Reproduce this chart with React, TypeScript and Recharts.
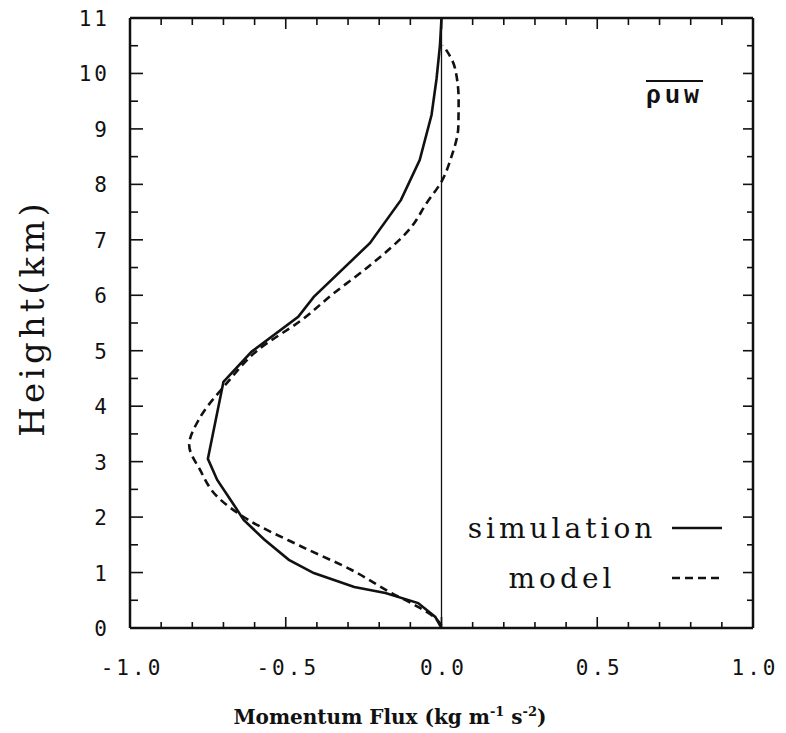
import {
  Legend,
  Line,
  LineChart,
  ReferenceLine,
  XAxis,
  YAxis,
} from "recharts";

// Momentum flux profiles. x in kg m^-1 s^-2, h in km.
const simHeight = [0, 0.2, 0.45, 0.63, 0.74, 0.99, 1.23, 1.6, 1.95, 2.25, 2.67, 3.05, 4.44, 4.98, 5.61, 5.97, 6.94, 7.72, 8.44, 9.25, 9.9, 10.5, 11];
const simFlux = [0, -0.02, -0.075, -0.18, -0.28, -0.41, -0.49, -0.57, -0.635, -0.67, -0.72, -0.75, -0.7, -0.61, -0.46, -0.41, -0.23, -0.13, -0.07, -0.032, -0.016, -0.005, 0];

const modelHeight = [0.05, 0.18, 0.38, 0.63, 1.05, 1.47, 1.95, 2.37, 2.85, 3.3, 3.75, 4.41, 5.01, 5.55, 6.04, 6.51, 7.23, 7.66, 8.05, 8.5, 9.04, 9.52, 10.1, 10.51];
const modelFlux = [0, -0.02, -0.075, -0.16, -0.29, -0.45, -0.62, -0.72, -0.775, -0.81, -0.78, -0.69, -0.59, -0.45, -0.345, -0.236, -0.097, -0.048, 0, 0.032, 0.054, 0.055, 0.043, 0.005];

const xTicks = [-1, -0.9, -0.8, -0.7, -0.6, -0.5, -0.4, -0.3, -0.2, -0.1, 0, 0.1, 0.2, 0.3, 0.4, 0.5, 0.6, 0.7, 0.8, 0.9, 1];
const yTicks = [0, 0.5, 1, 1.5, 2, 2.5, 3, 3.5, 4, 4.5, 5, 5.5, 6, 6.5, 7, 7.5, 8, 8.5, 9, 9.5, 10, 10.5, 11];

const simData = simHeight.map((h, i) => ({ h, x: simFlux[i] }));
const modelData = modelHeight.map((h, i) => ({ h, x: modelFlux[i] }));

const INK = "#111";
const TICK_FONT = "'DejaVu Sans Mono', monospace";
const SERIF = "'DejaVu Serif', serif";

const isMajorX = (v: number) => Math.abs(v * 2 - Math.round(v * 2)) < 1e-6;
const isMajorY = (v: number) => Math.abs(v - Math.round(v)) < 1e-6;

function BottomTick({ x, y, payload }: any) {
  const v = payload.value;
  const major = isMajorX(v);
  return (
    <g>
      <line x1={x} x2={x} y1={y} y2={y - (major ? 11 : 6)} stroke={INK} strokeWidth={1.6} />
      {major && (
        <text x={x + 2} y={y + 47} textAnchor="middle" fontFamily={TICK_FONT} fontSize={21} letterSpacing={3} fill={INK}>
          {Math.abs(v) < 1e-9 ? "0.0" : v.toFixed(1)}
        </text>
      )}
    </g>
  );
}

function TopTick({ x, y, payload }: any) {
  const major = isMajorX(payload.value);
  return <line x1={x} x2={x} y1={y} y2={y + (major ? 11 : 7)} stroke={INK} strokeWidth={1.6} />;
}

function LeftTick({ x, y, payload }: any) {
  const v = payload.value;
  const major = isMajorY(v);
  return (
    <g>
      <line x1={x} x2={x + (major ? 13 : 8)} y1={y} y2={y} stroke={INK} strokeWidth={1.6} />
      {major && (
        <text x={x - 20} y={y + 8} textAnchor="end" fontFamily={TICK_FONT} fontSize={21} letterSpacing={3} fill={INK}>
          {String(v)}
        </text>
      )}
    </g>
  );
}

function RightTick({ x, y, payload }: any) {
  const major = isMajorY(payload.value);
  return <line x1={x} x2={x - (major ? 10 : 6)} y1={y} y2={y} stroke={INK} strokeWidth={1.6} />;
}

function YTitle({ viewBox }: any) {
  const cx = viewBox.x + 32;
  const cy = viewBox.y + viewBox.height / 2 - 5;
  return (
    <text x={cx} y={cy} transform={`rotate(-90 ${cx} ${cy})`} textAnchor="middle" dominantBaseline="central" fontFamily={SERIF} fontSize={34} letterSpacing={4} fill={INK}>
      Height(km)
    </text>
  );
}

function XTitle({ viewBox }: any) {
  return (
    <text x={viewBox.x + 260} y={viewBox.y + 96} textAnchor="middle" fontFamily={SERIF} fontWeight="bold" fontSize={20} fill={INK}>
      Momentum Flux (kg m
      <tspan fontSize={13} dy={-8}>-1</tspan>
      <tspan dy={8}> s</tspan>
      <tspan fontSize={13} dy={-8}>-2</tspan>
      <tspan dy={8}>)</tspan>
    </text>
  );
}

function LegendBox() {
  const rows = [
    { label: "simulation", dash: undefined },
    { label: "model", dash: "8 5" },
  ];
  return (
    <div>
      {rows.map((r) => (
        <div key={r.label} style={{ display: "flex", alignItems: "center", height: 50 }}>
          <div style={{ width: 200, textAlign: "center", fontFamily: SERIF, fontSize: 28, letterSpacing: 4, color: INK }}>
            {r.label}
          </div>
          <svg width={60} height={10} style={{ marginLeft: 10 }}>
            <line x1={0} x2={50} y1={5} y2={5} stroke={INK} strokeWidth={2.5} strokeDasharray={r.dash} />
          </svg>
        </div>
      ))}
    </div>
  );
}

export default function App() {
  return (
    <div style={{ position: "absolute", left: 0, top: 0, width: 786, height: 733, background: "#fff" }}>
      <LineChart
        width={786}
        height={733}
        layout="vertical"
        margin={{ top: 17, right: 32, bottom: 0, left: 0 }}
      >
        <XAxis
          type="number"
          dataKey="x"
          domain={[-1, 1]}
          ticks={xTicks}
          interval={0}
          height={105}
          tickSize={0}
          tickMargin={0}
          tickLine={false}
          tick={<BottomTick />}
          axisLine={{ stroke: INK, strokeWidth: 2.5 }}
          label={<XTitle />}
        />
        <XAxis
          xAxisId="top"
          orientation="top"
          type="number"
          dataKey="x"
          domain={[-1, 1]}
          allowDataOverflow
          ticks={xTicks}
          interval={0}
          height={1}
          tickSize={0}
          tickMargin={0}
          tickLine={false}
          tick={<TopTick />}
          axisLine={{ stroke: INK, strokeWidth: 2.5 }}
        />
        <YAxis
          type="number"
          dataKey="h"
          domain={[0, 11]}
          reversed
          ticks={yTicks}
          interval={0}
          width={130}
          tickSize={0}
          tickMargin={0}
          tickLine={false}
          tick={<LeftTick />}
          axisLine={{ stroke: INK, strokeWidth: 2.5 }}
          label={<YTitle />}
        />
        <YAxis
          yAxisId="right"
          orientation="right"
          type="number"
          dataKey="h"
          domain={[0, 11]}
          reversed
          allowDataOverflow
          ticks={yTicks}
          interval={0}
          width={1}
          tickSize={0}
          tickMargin={0}
          tickLine={false}
          tick={<RightTick />}
          axisLine={{ stroke: INK, strokeWidth: 2.5 }}
        />
        <ReferenceLine x={0} stroke={INK} strokeWidth={1.3} />
        <Line
          data={simData}
          dataKey="x"
          name="simulation"
          type="linear"
          stroke={INK}
          strokeWidth={2.6}
          dot={false}
          isAnimationActive={false}
        />
        <Line
          data={modelData}
          dataKey="x"
          name="model"
          type="monotone"
          stroke={INK}
          strokeWidth={2.6}
          strokeDasharray="8 5"
          dot={false}
          isAnimationActive={false}
        />
        {/* invisible copy so the top/right frame axes are active */}
        <Line
          data={modelData}
          dataKey="x"
          xAxisId="top"
          yAxisId="right"
          stroke="none"
          dot={false}
          legendType="none"
          isAnimationActive={false}
        />
        <Legend
          layout="horizontal"
          verticalAlign="middle"
          align="center"
          content={<LegendBox />}
          wrapperStyle={{ position: "absolute", left: 462, top: 503, width: 290 }}
        />
      </LineChart>
      <div
        style={{
          position: "absolute",
          left: 646,
          top: 82,
          fontFamily: "'Liberation Mono', monospace",
          fontWeight: "bold",
          fontSize: 25,
          letterSpacing: 4,
          color: INK,
        }}
      >
        <span style={{ textDecoration: "overline" }}>ρ</span>
        <span style={{ textDecoration: "overline" }}>uw</span>
      </div>
    </div>
  );
}
